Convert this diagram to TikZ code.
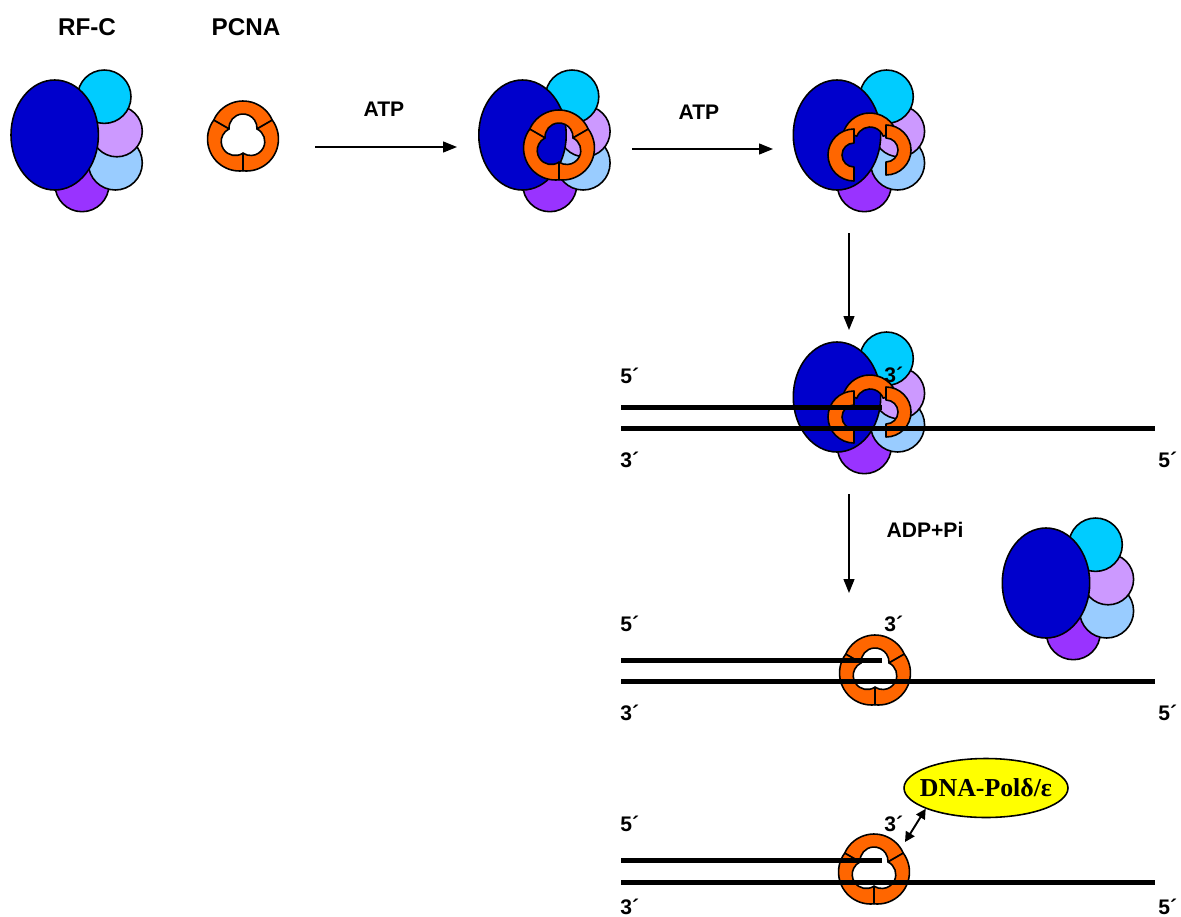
\documentclass[tikz,border=0pt]{standalone}
\usepackage{fontspec}
\setmainfont{Liberation Sans}
\newfontfamily\polfont{Liberation Serif}
\usetikzlibrary{arrows.meta,shapes.geometric}

\definecolor{rfcBig}{HTML}{0000CC}
\definecolor{rfcCyan}{HTML}{00CCFF}
\definecolor{rfcLilac}{HTML}{CC99FF}
\definecolor{rfcSky}{HTML}{99CCFF}
\definecolor{rfcPurple}{HTML}{9933FF}
\definecolor{pcnaOrange}{HTML}{FF6600}
\definecolor{polYellow}{HTML}{FFFF00}

\tikzset{
  outline/.style={draw=black, line width=0.9pt, line join=round},
  pcnaseg/.style={outline, fill=pcnaOrange},
  title/.style={font=\fontsize{13.8}{16}\selectfont\bfseries, inner sep=0pt},
  lbl/.style={font=\fontsize{12}{14}\selectfont\bfseries, inner sep=0pt},
  strand/.style={line width=0.1cm},
  flow/.style={line width=0.75pt, -{Triangle[length=0.28cm,width=0.22cm]}},
  % RF-C: large subunit (ellipse) with four small subunits behind it
  rfc/.pic={
    \path[outline, fill=rfcPurple] (27.3,-49.7) circle[radius=27];
    \path[outline, fill=rfcSky]    (60.6,-28)   circle[radius=27];
    \path[outline, fill=rfcLilac]  (62.1,3.7)   circle[radius=25.5];
    \path[outline, fill=rfcCyan]   (49.6,38.3)  circle[radius=26.7];
    \path[outline, fill=rfcBig]    (0,0) ellipse[x radius=43.7, y radius=55];
  },
  % closed PCNA trimer: three lobed ring segments around a trefoil hole
  pcna/.pic={
    \foreach \t in {90,210,330}{
      \path[pcnaseg] ({\t-60}:33.81)
        arc[start angle=\t-66.2, end angle=\t+66.2, radius=32]
        -- ({\t+60}:16.13)
        arc[start angle=\t+93.8, end angle=\t-93.8, radius=14]
        -- cycle;
    }
  },
  % opened PCNA ring held by RF-C
  pcnaopen/.pic={
    \path[pcnaseg] (20:28) arc[start angle=20, end angle=160, radius=28]
      -- (160:14) arc[start angle=160, end angle=20, radius=14] -- cycle;
    \begin{scope}[shift={(-16,-14)}]
      \path[pcnaseg] (90:26) arc[start angle=90, end angle=270, radius=26]
        -- (270:12) arc[start angle=270, end angle=90, radius=12] -- cycle;
    \end{scope}
    \begin{scope}[shift={(16,-9)}]
      \path[pcnaseg] (-90:25) arc[start angle=-90, end angle=90, radius=25]
        -- (90:12) arc[start angle=90, end angle=-90, radius=12] -- cycle;
    \end{scope}
  },
}

\begin{document}
\begin{tikzpicture}[x=0.02cm, y=0.02cm]
  \useasboundingbox (0,0) rectangle (1181,-917);
  \fill[white] (0,0) rectangle (1181,-917);

  % --- free RF-C and PCNA ---
  \node[title] (rfcTitle) at (87,-27) {RF-C};
  \node[title] (pcnaTitle) at (246,-27) {PCNA};
  \pic at (54.7,-135) {rfc};
  \pic at (243,-137) {pcna};

  % --- ATP: RF-C binds PCNA ---
  \coordinate (a1s) at (315,-147);
  \coordinate (a1e) at (457,-147);
  \draw[flow] (a1s) -- (a1e);
  \node[lbl] (atp1) at (384,-109) {ATP};
  \pic at (522.5,-135) {rfc};
  \pic at (559,-146) {pcna};

  % --- ATP: ring opening ---
  \coordinate (a2s) at (632,-149);
  \coordinate (a2e) at (773,-149);
  \draw[flow] (a2s) -- (a2e);
  \node[lbl] (atp2) at (699,-112) {ATP};
  \pic at (837,-135) {rfc};
  \pic at (870,-141) {pcnaopen};

  % --- loading onto primer/template DNA ---
  \coordinate (a3s) at (849,-233);
  \coordinate (a3e) at (849,-330);
  \draw[flow] (a3s) -- (a3e);
  \pic at (837,-397) {rfc};
  \pic at (870,-403) {pcnaopen};
  \coordinate (p4a) at (621,-407);
  \coordinate (p4b) at (882,-407);
  \coordinate (t4a) at (621,-428);
  \coordinate (t4b) at (1155,-428);
  \draw[strand] (p4a) -- (p4b);
  \draw[strand] (t4a) -- (t4b);
  \node[lbl, anchor=west] (l4a) at (620,-376) {5´};
  \node[lbl, anchor=west] (l4b) at (884,-375) {3´};
  \node[lbl, anchor=west] (l4c) at (620,-460) {3´};
  \node[lbl, anchor=west] (l4d) at (1158,-460) {5´};

  % --- ATP hydrolysis: RF-C leaves the clamp ---
  \coordinate (a4s) at (849,-494);
  \coordinate (a4e) at (849,-593);
  \draw[flow] (a4s) -- (a4e);
  \node[lbl] (adp) at (925,-530) {ADP+Pi};
  \pic at (1046,-583) {rfc};
  \pic at (875,-671) {pcna};
  \coordinate (p5a) at (621,-660);
  \coordinate (p5b) at (882,-660);
  \coordinate (t5a) at (621,-681);
  \coordinate (t5b) at (1155,-681);
  \draw[strand] (p5a) -- (p5b);
  \draw[strand] (t5a) -- (t5b);
  \node[lbl, anchor=west] (l5a) at (620,-624) {5´};
  \node[lbl, anchor=west] (l5b) at (884,-624) {3´};
  \node[lbl, anchor=west] (l5c) at (620,-713) {3´};
  \node[lbl, anchor=west] (l5d) at (1158,-713) {5´};

  % --- polymerase recruitment ---
  \pic at (874,-870) {pcna};
  \coordinate (p6a) at (621,-860);
  \coordinate (p6b) at (882,-860);
  \coordinate (t6a) at (621,-882);
  \coordinate (t6b) at (1155,-882);
  \draw[strand] (p6a) -- (p6b);
  \draw[strand] (t6a) -- (t6b);
  \node[lbl, anchor=west] (l6a) at (620,-824) {5´};
  \node[lbl, anchor=west] (l6b) at (884,-824) {3´};
  \node[lbl, anchor=west] (l6c) at (620,-907) {3´};
  \node[lbl, anchor=west] (l6d) at (1158,-907) {5´};
  \node[outline, ellipse, fill=polYellow, minimum width=3.28cm,
        minimum height=1.18cm, inner xsep=-0.17cm, inner ysep=0.1cm,
        font=\polfont\bfseries\fontsize{14.7}{16}\selectfont]
        (pol) at (986,-788) {DNA-Polδ/ε};
  \coordinate (clampTip) at (905,-842);
  \draw[line width=1.1pt,
        {Triangle[length=0.2cm,width=0.2cm]}-{Triangle[length=0.2cm,width=0.2cm]}]
        (clampTip) -- (pol.199);
\end{tikzpicture}
\end{document}
